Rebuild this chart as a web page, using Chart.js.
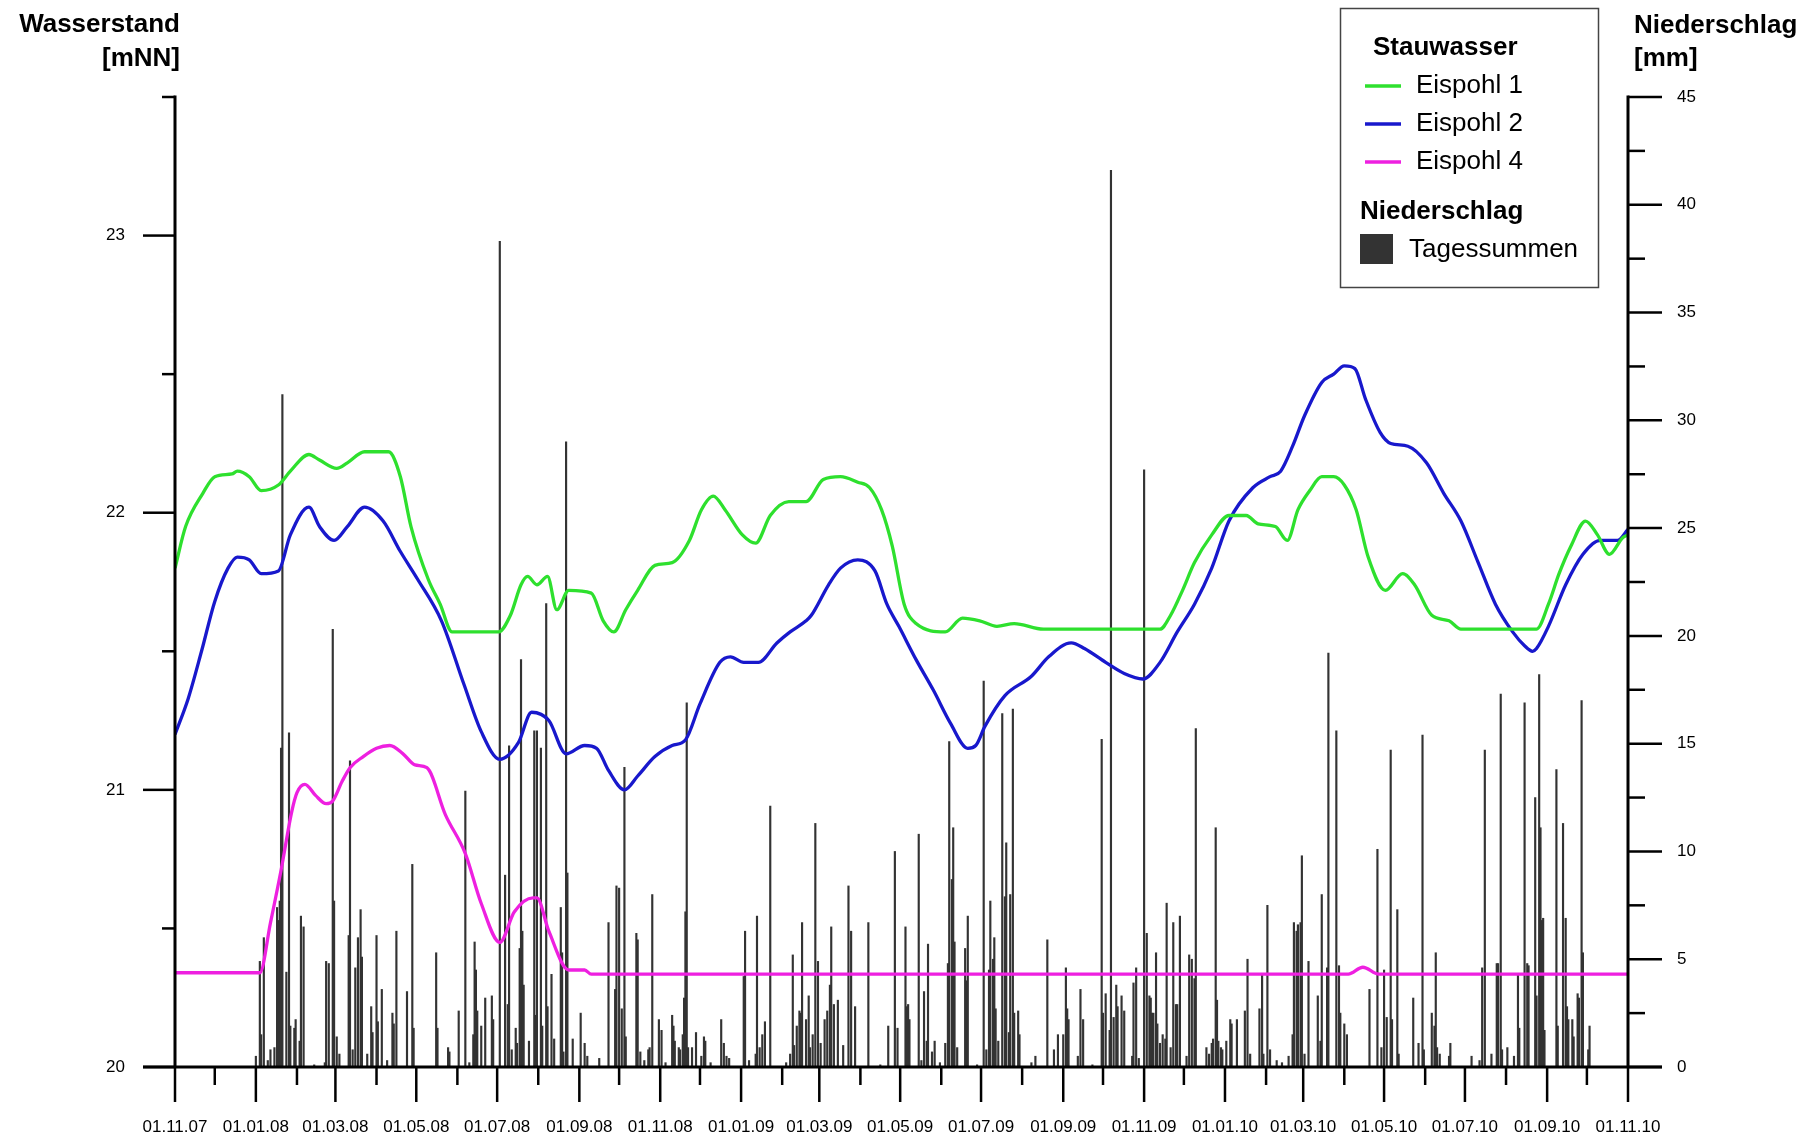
<!DOCTYPE html>
<html><head><meta charset="utf-8">
<script src="https://cdn.jsdelivr.net/npm/chart.js@4.4.1/dist/chart.umd.min.js"></script>
<style>html,body{margin:0;padding:0;background:#fff}#wrap{width:1818px;height:1140px}</style>
</head><body><div id="wrap"><canvas id="c" width="1818" height="1140"></canvas></div>
<script>
// ---- tick labels (x axis: first of each month; every second one labelled) ----
const monthTicks = ['01.11.07','01.12.07','01.01.08','01.02.08','01.03.08','01.04.08','01.05.08','01.06.08','01.07.08','01.08.08','01.09.08','01.10.08','01.11.08','01.12.08','01.01.09','01.02.09','01.03.09','01.04.09','01.05.09','01.06.09','01.07.09','01.08.09','01.09.09','01.10.09','01.11.09','01.12.09','01.01.10','01.02.10','01.03.10','01.04.10','01.05.10','01.06.10','01.07.10','01.08.10','01.09.10','01.10.10','01.11.10'];
const leftTicks = [20,20.5,21,21.5,22,22.5,23,23.5];
const rightTicks = [0,2.5,5,7.5,10,12.5,15,17.5,20,22.5,25,27.5,30,32.5,35,37.5,40,42.5,45];

// ---- Stauwasser [mNN]: [day since 01.11.2007, value] ----
const eispohl1 = [[0,21.80],[8,21.95],[21,22.07],[30,22.13],[43,22.14],[47,22.15],[56,22.13],[65,22.08],[78,22.10],[87,22.15],[101,22.21],[109,22.19],[122,22.16],[130,22.18],[143,22.22],[161,22.22],[170,22.13],[178,21.95],[191,21.76],[200,21.67],[209,21.57],[244,21.57],[253,21.63],[261,21.74],[266,21.77],[273,21.74],[281,21.77],[288,21.65],[297,21.72],[314,21.71],[323,21.61],[331,21.57],[340,21.65],[349,21.72],[362,21.81],[375,21.82],[388,21.90],[397,22.01],[406,22.06],[415,22.01],[428,21.92],[438,21.89],[449,21.99],[463,22.04],[476,22.04],[489,22.12],[502,22.13],[515,22.11],[524,22.09],[533,22.01],[541,21.88],[550,21.67],[559,21.60],[581,21.57],[594,21.62],[607,21.61],[620,21.59],[633,21.60],[655,21.58],[743,21.58],[751,21.63],[760,21.72],[769,21.82],[782,21.92],[795,21.99],[808,21.99],[817,21.96],[830,21.95],[839,21.90],[847,22.01],[856,22.08],[865,22.13],[874,22.13],[882,22.10],[891,22.01],[900,21.84],[913,21.72],[926,21.78],[935,21.74],[948,21.63],[961,21.61],[970,21.58],[1027,21.58],[1036,21.67],[1044,21.78],[1053,21.88],[1064,21.97],[1073,21.92],[1082,21.85],[1092,21.91],[1096,21.92]];
const eispohl2 = [[0,21.20],[10,21.33],[20,21.50],[30,21.68],[40,21.80],[47,21.84],[56,21.83],[65,21.78],[78,21.79],[87,21.92],[101,22.02],[109,21.95],[120,21.90],[130,21.95],[143,22.02],[157,21.97],[170,21.86],[183,21.76],[201,21.61],[218,21.38],[231,21.21],[245,21.11],[259,21.17],[269,21.28],[282,21.25],[295,21.13],[309,21.16],[318,21.15],[327,21.07],[339,21.00],[349,21.05],[362,21.12],[375,21.16],[385,21.18],[396,21.31],[411,21.46],[419,21.48],[429,21.46],[440,21.46],[454,21.53],[464,21.57],[476,21.61],[480,21.63],[493,21.74],[502,21.80],[515,21.83],[528,21.79],[537,21.67],[546,21.59],[559,21.47],[572,21.36],[585,21.24],[598,21.15],[604,21.16],[611,21.23],[626,21.34],[646,21.41],[659,21.48],[676,21.53],[686,21.51],[702,21.46],[716,21.42],[730,21.40],[743,21.46],[756,21.57],[769,21.67],[782,21.80],[795,21.97],[813,22.09],[826,22.13],[834,22.15],[843,22.24],[852,22.35],[865,22.47],[874,22.50],[882,22.53],[890,22.52],[898,22.41],[909,22.29],[917,22.25],[930,22.24],[944,22.18],[957,22.07],[970,21.97],[983,21.82],[996,21.67],[1009,21.57],[1018,21.52],[1024,21.50],[1027,21.51],[1036,21.59],[1049,21.74],[1062,21.85],[1075,21.90],[1088,21.90],[1096,21.94]];
const eispohl4 = [[0,20.34],[64,20.34],[72,20.52],[80,20.71],[88,20.92],[92,20.99],[98,21.02],[106,20.98],[114,20.95],[119,20.96],[126,21.03],[132,21.08],[142,21.12],[152,21.15],[162,21.16],[172,21.13],[181,21.09],[190,21.08],[204,20.91],[219,20.77],[231,20.59],[245,20.45],[256,20.56],[270,20.61],[273,20.61],[282,20.49],[297,20.35],[309,20.35],[314,20.335],[885,20.335],[896,20.36],[908,20.335],[1096,20.335]];

// ---- Niederschlag Tagessummen [mm]: [day since 01.11.2007, mm] ----
const rainDaily = [[61,0.5],[64,4.9],[65,1.5],[67,6.0],[70,0.3],[72,0.8],[75,0.9],[77,7.4],[78,6.8],[79,7.7],[80,14.8],[81,31.2],[84,4.4],[86,15.5],[87,1.9],[90,1.8],[91,2.2],[94,1.2],[95,7.0],[97,6.5],[105,0.1],[113,0.2],[114,4.9],[116,4.8],[119,20.3],[120,7.7],[122,1.4],[124,0.6],[131,6.1],[132,14.2],[134,0.8],[136,4.6],[138,6.0],[140,7.3],[141,5.1],[145,0.6],[148,2.8],[149,1.6],[152,6.1],[153,2.1],[156,3.6],[160,0.3],[164,2.5],[165,2.0],[167,6.3],[175,3.5],[179,9.4],[180,1.8],
[197,5.3],[198,1.8],[206,0.9],[207,0.7],[214,2.6],[219,12.8],[222,0.2],[225,1.5],[226,5.8],[227,4.5],[228,2.6],[231,1.9],[234,3.2],[239,3.3],[240,2.2],[245,38.3],[249,8.9],[251,2.9],[252,14.9],[254,0.8],[257,1.8],[258,1.1],[260,5.5],[261,18.9],[262,6.3],[263,3.8],[267,1.2],[271,15.6],[272,2.4],[273,15.6],[276,14.8],[277,1.9],[280,21.5],[281,2.8],[284,4.3],[286,1.3],[291,7.4],[292,5.3],[293,0.7],[295,29.0],[296,9.0],[300,1.3],[306,2.5],[309,1.1],[311,0.5],[320,0.4],[327,6.7],[332,3.6],[333,8.4],[335,8.3],[337,2.7],[339,13.9],[340,1.4],[348,6.2],[349,5.9],[351,0.7],[354,0.3],[357,0.8],[358,0.9],[360,8.0],[365,2.2],[367,1.7],
[370,0.2],[375,2.4],[376,1.9],[377,1.2],[380,0.9],[381,0.8],[383,1.5],[384,3.2],[385,7.2],[386,16.9],[387,0.9],[390,0.9],[393,1.6],[397,0.5],[399,1.4],[400,1.2],[404,0.2],[412,2.2],[414,1.1],[416,0.5],[418,0.4],[429,4.2],[430,6.3],[433,0.3],[438,0.6],[439,7.0],[441,0.9],[443,1.5],[445,2.1],[449,12.1],[461,0.2],[464,0.6],[466,5.2],[467,1.0],[469,1.9],[471,2.6],[472,2.5],[473,6.7],[476,2.2],[478,3.3],[479,0.9],[481,1.5],[483,11.3],[485,4.9],[487,1.1],[490,2.2],[492,2.6],[494,3.8],[495,6.5],[497,2.9],[500,3.1],[504,1.0],[508,8.4],[510,6.3],[513,2.8],[523,6.7],[532,0.1],[538,1.9],[543,10.0],[545,1.8],[551,6.5],[552,2.8],[553,2.9],[554,2.2],
[561,10.8],[563,0.3],[565,3.5],[567,1.2],[568,5.7],[571,0.7],[573,1.2],[577,0.2],[581,1.1],[583,4.8],[584,15.1],[586,8.7],[587,11.1],[588,5.8],[590,0.9],[596,5.5],[597,4.0],[598,7.0],[605,0.1],[610,17.9],[612,0.8],[614,4.5],[615,7.7],[617,5.0],[618,6.0],[619,2.7],[621,1.2],[624,16.4],[626,7.9],[627,10.4],[629,1.6],[630,8.0],[632,16.6],[633,2.5],[636,2.6],[637,1.5],[646,0.2],[649,0.5],[658,5.9],[663,0.8],[666,1.5],[670,1.5],[672,4.6],[673,2.7],[674,2.2],[681,0.5],[683,3.6],[685,2.2],[692,0.1],[699,15.2],[700,2.5],[702,3.4],[705,1.7],[706,41.6],[708,2.3],[710,3.8],[711,2.8],[714,3.3],[716,2.6],[722,0.5],[723,3.9],[725,4.6],[727,0.4],[731,27.7],[733,6.2],[735,3.3],[736,3.2],[737,2.5],
[738,2.5],[740,5.3],[741,2.0],[743,1.1],[745,1.5],[747,1.3],[748,7.6],[751,0.9],[753,6.7],[755,2.9],[756,2.9],[758,7.0],[763,0.5],[765,5.2],[767,5.0],[769,4.1],[770,15.7],[778,0.9],[780,0.6],[782,1.1],[783,1.3],[785,11.1],[786,3.1],[787,1.2],[789,0.9],[790,0.8],[793,1.2],[796,2.2],[797,2.0],[801,2.2],[807,2.6],[809,5.0],[811,0.6],[818,2.7],[820,4.3],[821,0.6],[824,7.5],[826,0.8],[831,0.3],[835,0.2],[840,0.5],[843,1.5],[844,6.7],[846,6.3],[847,6.6],[849,6.7],[850,9.8],[852,0.6],[855,4.9],[862,3.3],[864,1.2],[865,8.0],[869,4.6],[870,19.2],[876,15.6],[878,4.7],[879,2.5],[882,2.0],[884,1.5],[901,3.6],[907,10.1],[910,0.9],[912,4.5],[914,2.3],[917,14.7],[918,2.2],[922,7.3],
[923,0.6],[934,3.2],[938,1.1],[941,15.4],[942,0.8],[948,2.5],[950,1.9],[951,5.3],[952,0.9],[954,0.6],[961,0.5],[962,1.1],[978,0.5],[984,0.3],[986,4.6],[988,14.7],[993,0.6],[997,4.8],[998,4.8],[1000,17.3],[1001,0.8],[1005,0.9],[1010,0.5],[1013,4.3],[1014,1.8],[1018,16.9],[1020,4.8],[1021,4.7],[1026,12.5],[1027,3.3],[1029,18.2],[1030,11.1],[1031,6.8],[1032,6.9],[1033,1.7],[1042,13.8],[1043,1.9],[1047,11.3],[1049,6.9],[1050,2.8],[1051,2.2],[1054,2.2],[1055,1.4],[1058,3.4],[1059,3.2],[1061,17.0],[1062,5.3],[1066,0.8],[1067,1.9]];

const GREEN = '#2ee02e', BLUE = '#1818cc', MAGENTA = '#ee20e0', BAR = '#333333';
const FONT = "'Liberation Sans', Arial, Helvetica, sans-serif";
const START = Date.UTC(2007, 10, 1);
function dayOf(s) { const p = s.split('.').map(Number); return (Date.UTC(2000 + p[2], p[1] - 1, p[0]) - START) / 86400000; }
const XMAX = dayOf(monthTicks[monthTicks.length - 1]);
const pts = a => a.map(([x, y]) => ({x, y}));

Chart.defaults.font.family = FONT;
Chart.defaults.font.size = 17;
Chart.defaults.color = '#000';

const axesPlugin = {
  id: 'axes',
  afterDraw(chart) {
    const {ctx} = chart; const x = chart.scales.x, yL = chart.scales.yL, yR = chart.scales.yR;
    const L = x.getPixelForValue(0), R = x.getPixelForValue(XMAX);
    const B = yL.getPixelForValue(20), T = yL.getPixelForValue(23.5);
    const ln = (a, b, c, d) => { ctx.beginPath(); ctx.moveTo(a, b); ctx.lineTo(c, d); ctx.stroke(); };
    ctx.save(); ctx.strokeStyle = '#000'; ctx.lineCap = 'butt';
    ctx.lineWidth = 3;
    ln(L, T - 1.5, L, B); ln(R, T - 1.5, R, B); ln(L - 32, B, R + 34, B);
    ctx.lineWidth = 2.5;
    leftTicks.forEach(v => { const y = yL.getPixelForValue(v); ln(L - (Number.isInteger(v) ? 32 : 13), y, L, y); });
    rightTicks.forEach(v => { const y = yR.getPixelForValue(v); ln(R, y, R + (v % 5 === 0 ? 34 : 17), y); });
    monthTicks.forEach((s, i) => { const px = x.getPixelForValue(dayOf(s)); ln(px, B, px, B + (i % 2 === 0 ? 35 : 18)); });
    // axis titles
    ctx.fillStyle = '#000'; ctx.textBaseline = 'middle';
    ctx.font = 'bold 26px ' + FONT;
    ctx.textAlign = 'right'; ctx.fillText('Wasserstand', 180, 25); ctx.fillText('[mNN]', 180, 59);
    ctx.textAlign = 'left'; ctx.fillText('Niederschlag', 1634, 26); ctx.fillText('[mm]', 1634, 59);
    // legend
    ctx.lineWidth = 1.5; ctx.strokeStyle = '#444';
    ctx.strokeRect(1340.5, 8.5, 258, 279);
    ctx.font = 'bold 26px ' + FONT; ctx.fillText('Stauwasser', 1373, 48);
    const items = [['Eispohl 1', GREEN], ['Eispohl 2', BLUE], ['Eispohl 4', MAGENTA]];
    items.forEach(([t, c], i) => {
      const y = 86 + i * 38;
      ctx.strokeStyle = c; ctx.lineWidth = 3.3; ln(1365, y, 1401, y);
      ctx.font = '26px ' + FONT; ctx.fillText(t, 1416, y);
    });
    ctx.font = 'bold 26px ' + FONT; ctx.fillText('Niederschlag', 1360, 212);
    ctx.fillStyle = BAR; ctx.fillRect(1360, 234, 33, 30);
    ctx.fillStyle = '#000'; ctx.font = '26px ' + FONT; ctx.fillText('Tagessummen', 1409, 250);
    ctx.restore();
  }
};

new Chart(document.getElementById('c'), {
  type: 'bar',
  data: { datasets: [
    { type: 'line', label: 'Eispohl 1', data: pts(eispohl1), yAxisID: 'yL', borderColor: GREEN, borderWidth: 3.3, pointRadius: 0, cubicInterpolationMode: 'monotone', order: 2 },
    { type: 'line', label: 'Eispohl 2', data: pts(eispohl2), yAxisID: 'yL', borderColor: BLUE, borderWidth: 3.3, pointRadius: 0, cubicInterpolationMode: 'monotone', order: 3 },
    { type: 'line', label: 'Eispohl 4', data: pts(eispohl4), yAxisID: 'yL', borderColor: MAGENTA, borderWidth: 3.3, pointRadius: 0, cubicInterpolationMode: 'monotone', order: 1 },
    { type: 'bar', label: 'Tagessummen', data: pts(rainDaily), yAxisID: 'yR', backgroundColor: BAR, barThickness: 1.5, order: 10 }
  ]},
  options: {
    responsive: false, animation: false, devicePixelRatio: 1,
    layout: { padding: { top: 97, left: 0, right: 0, bottom: 0 } },
    plugins: { legend: { display: false }, tooltip: { enabled: false } },
    scales: {
      x: { type: 'linear', min: 0, max: XMAX, offset: false,
        grid: { display: false, drawTicks: false }, border: { display: false },
        afterBuildTicks: s => { s.ticks = monthTicks.map(l => ({ value: dayOf(l) })); },
        ticks: { autoSkip: false, maxRotation: 0, minRotation: 0, padding: 50, callback: (v, i) => i % 2 === 0 ? monthTicks[i] : '' },
        afterFit: s => { s.height = 73; } },
      yL: { type: 'linear', position: 'left', min: 20, max: 23.5,
        grid: { display: false, drawTicks: false }, border: { display: false },
        afterBuildTicks: s => { s.ticks = leftTicks.map(v => ({ value: v })); },
        ticks: { padding: 50, callback: v => Number.isInteger(v) ? String(v) : '' },
        afterFit: s => { s.width = 175; } },
      yR: { type: 'linear', position: 'right', min: 0, max: 45,
        grid: { display: false, drawTicks: false }, border: { display: false },
        afterBuildTicks: s => { s.ticks = rightTicks.map(v => ({ value: v })); },
        ticks: { padding: 49, callback: v => v % 5 === 0 ? String(v) : '' },
        afterFit: s => { s.width = 190; } }
    }
  },
  plugins: [axesPlugin]
});
</script></body></html>
